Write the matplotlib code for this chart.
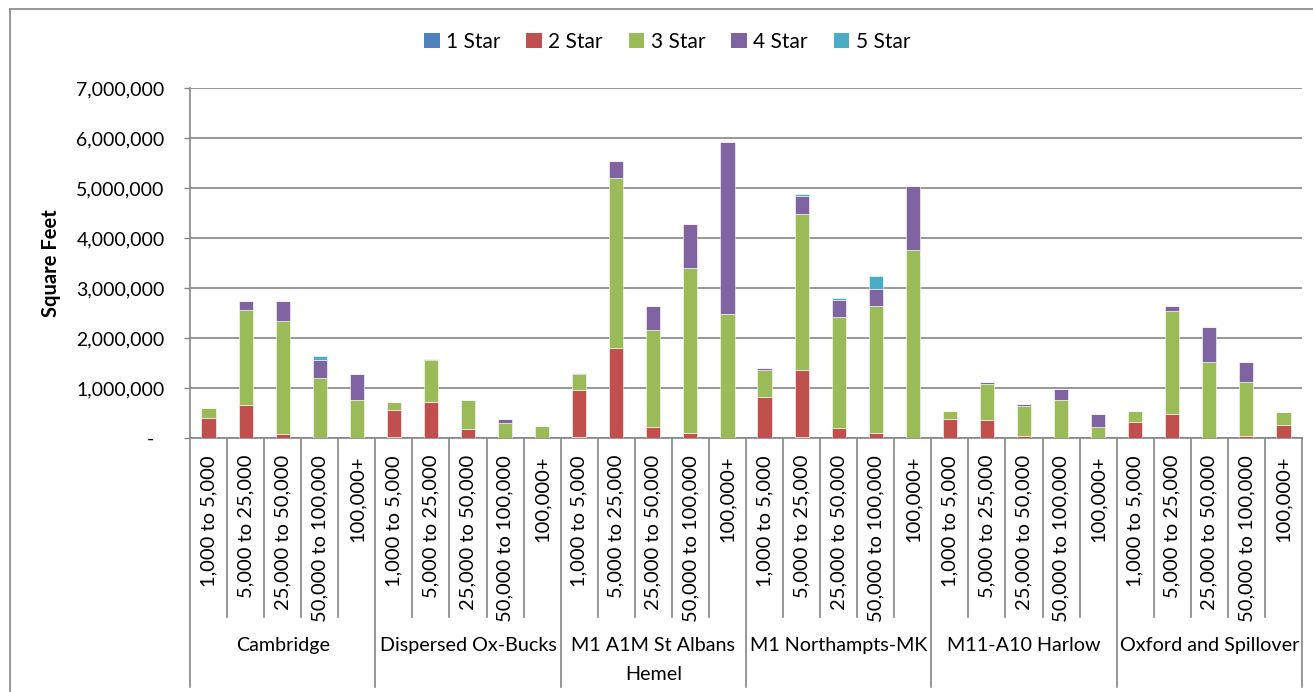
import matplotlib
matplotlib.use("Agg")
import matplotlib.pyplot as plt
from matplotlib.lines import Line2D
from matplotlib.patches import Patch
import numpy as np

plt.rcParams['font.family'] = ['Lato', 'DejaVu Sans']

regions = ["Cambridge", "Dispersed Ox-Bucks", "M1 A1M St Albans\nHemel",
           "M1 Northampts-MK", "M11-A10 Harlow", "Oxford and Spillover"]
bands = ["1,000 to 5,000", "5,000 to 25,000", "25,000 to 50,000",
         "50,000 to 100,000", "100,000+"]
series = ["1 Star", "2 Star", "3 Star", "4 Star", "5 Star"]
colors = ["#4F81BD", "#C0504D", "#9BBB59", "#8064A2", "#4BACC6"]

# values in square feet, order: region-major, band-minor
star1 = [10000, 0, 0, 0, 0,
         30000, 0, 0, 0, 0,
         30000, 10000, 0, 0, 0,
         10000, 30000, 0, 0, 0,
         10000, 0, 0, 0, 0,
         0, 0, 0, 0, 0]
star2 = [400000, 670000, 80000, 0, 0,
         540000, 730000, 190000, 10000, 0,
         930000, 1800000, 230000, 110000, 0,
         820000, 1340000, 210000, 110000, 0,
         380000, 360000, 40000, 0, 0,
         330000, 490000, 0, 40000, 270000]
star3 = [190000, 1890000, 2260000, 1210000, 760000,
         160000, 830000, 570000, 300000, 250000,
         320000, 3390000, 1930000, 3290000, 2480000,
         540000, 3110000, 2210000, 2530000, 3770000,
         160000, 730000, 610000, 770000, 230000,
         220000, 2060000, 1520000, 1080000, 250000]
star4 = [0, 190000, 410000, 360000, 530000,
         0, 30000, 0, 70000, 0,
         30000, 350000, 480000, 880000, 3440000,
         30000, 370000, 350000, 350000, 1280000,
         0, 30000, 30000, 220000, 260000,
         0, 90000, 710000, 410000, 0]
star5 = [0, 0, 0, 70000, 0,
         0, 0, 0, 0, 0,
         0, 0, 0, 0, 0,
         0, 30000, 30000, 250000, 0,
         0, 0, 0, 0, 0,
         0, 0, 0, 0, 0]
yticks = [0, 1000000, 2000000, 3000000, 4000000, 5000000, 6000000, 7000000]

W, H = 1313, 692
fig = plt.figure(figsize=(W / 100, H / 100), dpi=100)
ax = fig.add_axes([190 / W, 1 - 438 / H, (1302 - 190) / W, 350 / H])

n = len(regions) * len(bands)
x = np.arange(n)
bottom = np.zeros(n)
for name, vals, c in zip(series, [star1, star2, star3, star4, star5], colors):
    v = np.array(vals, dtype=float)
    ax.bar(x, v, 0.38, bottom=bottom, color=c, edgecolor='white', linewidth=0.4, label=name, zorder=3)
    bottom += v

ax.set_xlim(-0.5, n - 0.5)
ax.set_ylim(0, 7000000)
ax.set_yticks(yticks)
ax.set_yticklabels(["-  " if t == 0 else f"{t:,}" for t in yticks])
ax.tick_params(axis='y', length=4.3, width=1, color='#868686', pad=14, labelsize=14)
ax.set_xticks([])
ax.grid(axis='y', color='#868686', linewidth=1.2, zorder=0)
for s in ['top', 'right']:
    ax.spines[s].set_visible(False)
for s in ['left', 'bottom']:
    ax.spines[s].set_color('#868686')
    ax.spines[s].set_linewidth(1.2)
ax.set_ylabel("Square Feet", fontsize=14.5, fontweight='bold', labelpad=11)

tr = ax.get_xaxis_transform()
inner_bottom = -(617 - 438) / 350
group_bottom = -(687 - 438) / 350
nb = len(bands)
for i in range(n + 1):
    xp = i - 0.5
    yb = group_bottom if i % nb == 0 else inner_bottom
    ax.add_line(Line2D([xp, xp], [0, yb], transform=tr, color='#868686', lw=1.2, clip_on=False))

for i in range(n):
    ax.text(i, -(455 - 438) / 350, bands[i % nb], transform=tr, rotation=90,
            ha='center', va='top', fontsize=14.5)

for g, r in enumerate(regions):
    xc = g * nb + (nb - 1) / 2
    ax.text(xc, -(637 - 438) / 350, r, transform=tr, ha='center', va='top',
            fontsize=14.2, linespacing=1.85)

handles = [Patch(facecolor=c, label=s) for s, c in zip(series, colors)]
fig.legend(handles=handles, loc='center', bbox_to_anchor=(667 / W, 1 - 42 / H), ncol=5,
           frameon=False, fontsize=15, handlelength=0.75, handleheight=0.75,
           handletextpad=0.3, columnspacing=1.25)

# outer chart border
fig.add_artist(Line2D([10 / W, 10 / W], [1 - 9 / H, 0], transform=fig.transFigure, color='#868686', lw=1.2))
fig.add_artist(Line2D([10 / W, 1], [1 - 9 / H, 1 - 9 / H], transform=fig.transFigure, color='#868686', lw=1.2))

fig.savefig("out.png", dpi=100)
